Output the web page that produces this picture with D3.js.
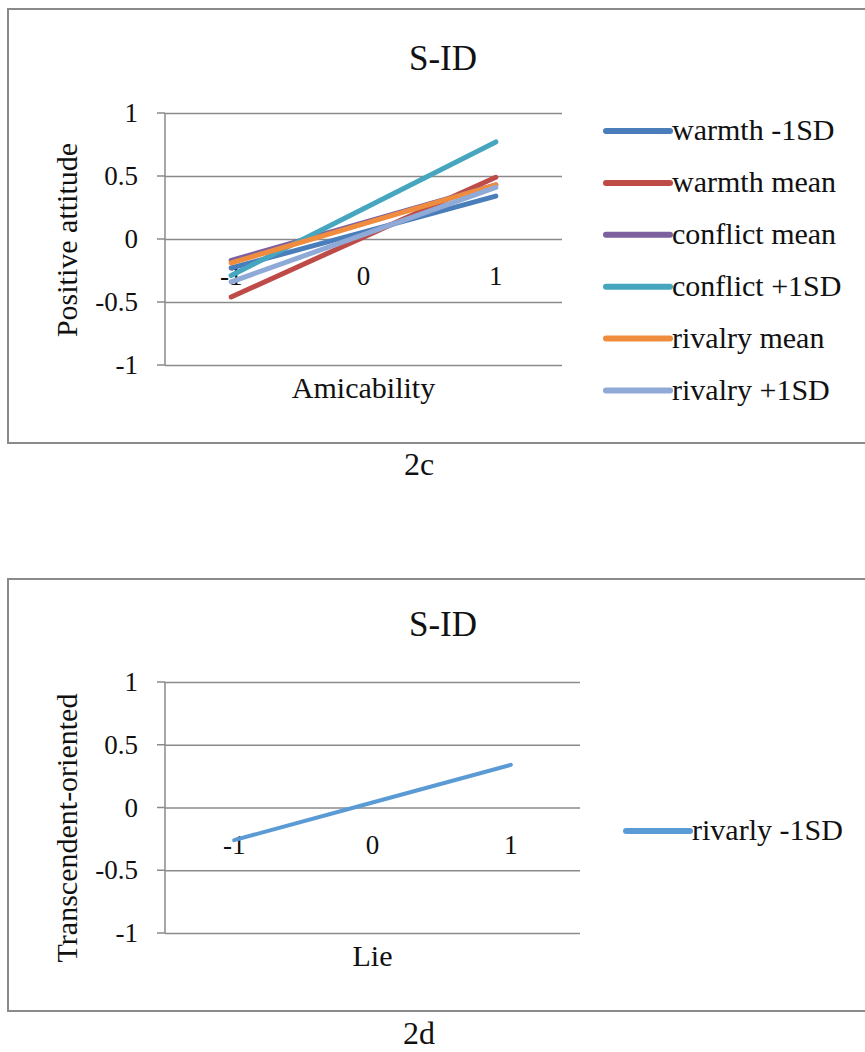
<!DOCTYPE html>
<html>
<head>
<meta charset="utf-8">
<script src="https://cdn.jsdelivr.net/npm/d3@7/dist/d3.min.js"></script>
<style>
  html, body { margin: 0; padding: 0; background: #fff; }
  svg { display: block; }
  svg text { font-family: "Liberation Serif", Tinos, "DejaVu Serif", "Noto Serif", Times, serif; }
</style>
</head>
<body>
<svg id="chart" width="865" height="1052"></svg>
<script>
// ---------- data ----------
const categories = ["-1", "0", "1"];
const yTicks = [-1, -0.5, 0, 0.5, 1];
const yTickLabels = ["-1", "-0.5", "0", "0.5", "1"];

// Chart 2c : S-ID, Positive attitude by Amicability
const seriesNames2c = ["warmth -1SD", "warmth mean", "conflict mean", "conflict +1SD", "rivalry mean", "rivalry +1SD"];
const warmthMinus1SD = [-0.23, 0.055, 0.34];
const warmthMean     = [-0.46, 0.015, 0.49];
const conflictMean   = [-0.17, 0.13, 0.43];
const conflictPlus1SD= [-0.29, 0.24, 0.77];
const rivalryMean    = [-0.19, 0.12, 0.43];
const rivalryPlus1SD = [-0.34, 0.035, 0.41];
const colors2c = ["#4a7ebb", "#be4b48", "#7d60a0", "#46a6bf", "#f08c3e", "#8faad6"];

// Chart 2d : S-ID, Transcendent-oriented by Lie
const seriesNames2d = ["rivarly -1SD"];
const rivarlyMinus1SD = [-0.26, 0.04, 0.34];
const colors2d = ["#5b9bd5"];

const svg = d3.select("#chart");

function txt(sel) {
  return sel.attr("fill", "#111");
}

function drawChart(cfg) {
  const g = svg.append("g");
  // outer frame
  g.append("rect")
    .attr("x", 8).attr("y", cfg.frameTop)
    .attr("width", 872).attr("height", cfg.frameBottom - cfg.frameTop)
    .attr("fill", "none").attr("stroke", "#8a8a8a").attr("stroke-width", 2);

  const x = d3.scaleBand().domain(categories).range([cfg.left, cfg.right]);
  const y = d3.scaleLinear().domain([-1, 1]).range([cfg.bottom, cfg.top]);

  // gridlines via d3.axisLeft
  const yAxis = d3.axisLeft(y).tickValues(yTicks)
    .tickSize(-(cfg.right - cfg.left)).tickFormat(() => "");
  const ya = g.append("g").attr("transform", `translate(${cfg.left},0)`).call(yAxis);
  ya.select(".domain").remove();
  ya.selectAll(".tick line").attr("stroke", "#8a8a8a").attr("stroke-width", 1.5);
  ya.selectAll(".tick text").remove();
  // outward tick marks
  g.selectAll(".otick").data(yTicks).enter().append("line")
    .attr("x1", cfg.left - 8).attr("x2", cfg.left)
    .attr("y1", d => y(d)).attr("y2", d => y(d))
    .attr("stroke", "#8a8a8a").attr("stroke-width", 1.5);
  // vertical axis line
  g.append("line").attr("x1", cfg.left).attr("x2", cfg.left)
    .attr("y1", y(1)).attr("y2", y(-1))
    .attr("stroke", "#8a8a8a").attr("stroke-width", 1.5);
  // y tick labels
  txt(g.selectAll(".ylab").data(yTicks).enter().append("text"))
    .attr("x", 138).attr("y", d => y(d) + 9)
    .attr("text-anchor", "end").attr("font-size", 27)
    .text((d, i) => yTickLabels[i]);

  // x tick labels (next to axis at 0)
  txt(g.selectAll(".xlab").data(categories).enter().append("text"))
    .attr("x", d => x(d) + x.bandwidth() / 2)
    .attr("y", y(0) + 46)
    .attr("text-anchor", "middle").attr("font-size", 27)
    .text(d => d);

  // series lines
  const line = d3.line()
    .x((d, i) => x(categories[i]) + x.bandwidth() / 2)
    .y(d => y(d));
  cfg.series.forEach((s, i) => {
    g.append("path").datum(s)
      .attr("d", line)
      .attr("fill", "none")
      .attr("stroke", cfg.colors[i])
      .attr("stroke-width", cfg.lineWidth)
      .attr("stroke-linecap", "round")
      .attr("stroke-linejoin", "round");
  });

  // title
  txt(g.append("text")).attr("x", 443).attr("y", cfg.titleY)
    .attr("text-anchor", "middle").attr("font-size", 35).text("S-ID");
  // x axis title
  txt(g.append("text")).attr("x", (cfg.left + cfg.right) / 2).attr("y", cfg.bottom + 33)
    .attr("text-anchor", "middle").attr("font-size", 30).text(cfg.xTitle);
  // y axis title
  txt(g.append("text"))
    .attr("transform", `translate(77,${cfg.yTitleCenter}) rotate(-90)`)
    .attr("text-anchor", "middle").attr("font-size", 30).text(cfg.yTitle);

  // legend
  const lg = g.selectAll(".leg").data(cfg.names).enter().append("g")
    .attr("transform", (d, i) => `translate(0,${cfg.legendY + i * 51.9})`);
  lg.append("line")
    .attr("x1", cfg.legendX).attr("x2", cfg.legendX + 64)
    .attr("y1", 0).attr("y2", 0)
    .attr("stroke", (d, i) => cfg.colors[i])
    .attr("stroke-width", 6).attr("stroke-linecap", "round");
  txt(lg.append("text"))
    .attr("x", cfg.legendX + 66).attr("y", 9)
    .attr("font-size", 30).text(d => d);

  // caption
  txt(svg.append("text")).attr("x", 419).attr("y", cfg.captionY)
    .attr("text-anchor", "middle").attr("font-size", 32).text(cfg.caption);
}

drawChart({
  frameTop: 9, frameBottom: 443,
  left: 165, right: 562, top: 113, bottom: 365,
  series: [warmthMinus1SD, warmthMean, conflictMean, conflictPlus1SD, rivalryMean, rivalryPlus1SD],
  names: seriesNames2c, colors: colors2c, lineWidth: 5,
  titleY: 70, xTitle: "Amicability", yTitle: "Positive attitude", yTitleCenter: 240,
  legendX: 606, legendY: 131,
  caption: "2c", captionY: 475
});

drawChart({
  frameTop: 579, frameBottom: 1011,
  left: 165, right: 580, top: 682, bottom: 933,
  series: [rivarlyMinus1SD],
  names: seriesNames2d, colors: colors2d, lineWidth: 4,
  titleY: 636, xTitle: "Lie", yTitle: "Transcendent-oriented", yTitleCenter: 828,
  legendX: 626, legendY: 831,
  caption: "2d", captionY: 1044
});
</script>
</body>
</html>
